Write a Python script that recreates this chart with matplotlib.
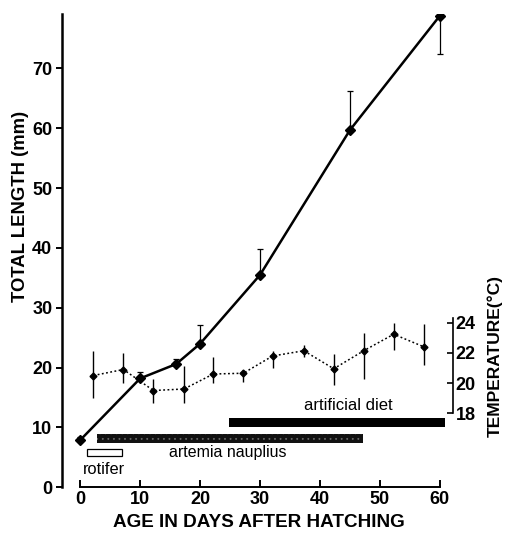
import matplotlib
matplotlib.use("Agg")
import matplotlib.pyplot as plt

plt.rcParams['font.family'] = ['Liberation Sans', 'DejaVu Sans']
plt.rcParams['hatch.linewidth'] = 0.6

# total length (mm), mean and one-sided error
days_len = [0, 10, 16, 20, 30, 45, 60]
length = [7.9, 18.2, 20.6, 24.0, 35.5, 59.7, 78.8]
len_err_up = [0.5, 1.0, 0.9, 3.1, 4.3, 6.6, 0.0]
len_err_dn = [0.0, 0.0, 0.0, 0.0, 0.0, 0.0, 6.4]

# water temperature (C)
days_temp = [2.2, 7.2, 12.2, 17.3, 22.2, 27.2, 32.1, 37.3, 42.3, 47.3, 52.3, 57.4]
temp = [20.5, 20.9, 19.5, 19.6, 20.6, 20.65, 21.8, 22.15, 20.95, 22.15, 23.25, 22.4]
temp_hi = [22.1, 22.0, 20.3, 21.1, 21.7, 20.9, 22.1, 22.5, 21.9, 23.3, 24.0, 23.9]
temp_lo = [19.0, 20.0, 18.7, 18.7, 20.0, 20.1, 21.0, 21.7, 19.9, 20.3, 22.2, 21.2]

# feeding periods (start day, end day)
feeds = ["rotifer", "artemia nauplius", "artificial diet"]
feed_start = [1.1, 2.8, 24.8]
feed_end = [6.9, 47.2, 60.9]

fig = plt.figure(figsize=(5.06, 5.34), dpi=100)
ax = fig.add_axes([62 / 506, 46.7 / 534, 391 / 506, 473.3 / 534])
ax.set_xlim(-3.05, 62.2)
ax.set_ylim(0, 79.1)

# length curve
ax.errorbar(days_len, length, yerr=[len_err_dn, len_err_up], color="black",
            lw=1.8, marker="D", ms=5, ecolor="black", elinewidth=0.9,
            capsize=2.5, capthick=0.9, zorder=4)

# feeding bars
ax.barh(5.8, feed_end[0] - feed_start[0], left=feed_start[0], height=1.1,
        facecolor="white", edgecolor="black", lw=0.9)
ax.barh(8.1, feed_end[1] - feed_start[1], left=feed_start[1], height=1.5,
        facecolor="#111111", edgecolor="#666666", hatch="...", lw=0)
ax.barh(10.78, feed_end[2] - feed_start[2], left=feed_start[2], height=1.5,
        facecolor="black", edgecolor="black", lw=0)
ax.text(4.0, 3.0, feeds[0], ha="center", va="center", fontsize=11.8)
ax.text(24.6, 5.8, feeds[1], ha="center", va="center", fontsize=11.5)
ax.text(44.7, 13.6, feeds[2], ha="center", va="center", fontsize=12)

ax.spines['top'].set_visible(False)
ax.spines['right'].set_visible(False)
ax.spines['bottom'].set_bounds(0, 60)
ax.spines['left'].set_linewidth(1.8)
ax.spines['bottom'].set_linewidth(1.4)
ax.set_xticks([0, 10, 20, 30, 40, 50, 60])
ax.set_yticks([0, 10, 20, 30, 40, 50, 60, 70])
ax.tick_params(axis='x', direction='in', length=5, width=1.4, labelsize=13, pad=3)
ax.tick_params(axis='y', direction='out', length=4, width=1.4, labelsize=13, pad=3)
for lab in ax.get_xticklabels() + ax.get_yticklabels():
    lab.set_fontweight("bold")
ax.text(-0.105, 0.594, "TOTAL LENGTH (mm)", transform=ax.transAxes, rotation=90,
        ha="center", va="center", fontsize=13.3, fontweight="bold")
ax.text(29.8, -5.9, "AGE IN DAYS AFTER HATCHING", ha="center", va="center",
        fontsize=13.6, fontweight="bold", clip_on=False)

# temperature axis
ax2 = ax.twinx()
ax2.set_ylim(13.05, 44.59)
ax2.errorbar(days_temp, temp,
             yerr=[[t - l for t, l in zip(temp, temp_lo)],
                   [h - t for t, h in zip(temp, temp_hi)]],
             color="black", lw=1.1, ls=(0, (1.2, 1.6)), marker="D", ms=3.5,
             ecolor="black", elinewidth=1.0, capsize=0, zorder=3)
for s in ['top', 'left', 'bottom']:
    ax2.spines[s].set_visible(False)
ax2.spines['right'].set_bounds(18, 24.3)
ax2.spines['right'].set_linewidth(1.2)
ax2.set_yticks([18, 20, 22, 24])
ax2.tick_params(axis='y', direction='in', length=4, width=1.2, labelsize=13, pad=2)
for lab in ax2.get_yticklabels():
    lab.set_fontweight("bold")
ax2.text(1.107, 0.277, "TEMPERATURE(\u00b0C)", transform=ax2.transAxes, rotation=90,
         ha="center", va="center", fontsize=12.5, fontweight="bold")

fig.savefig("out.png", dpi=100)
